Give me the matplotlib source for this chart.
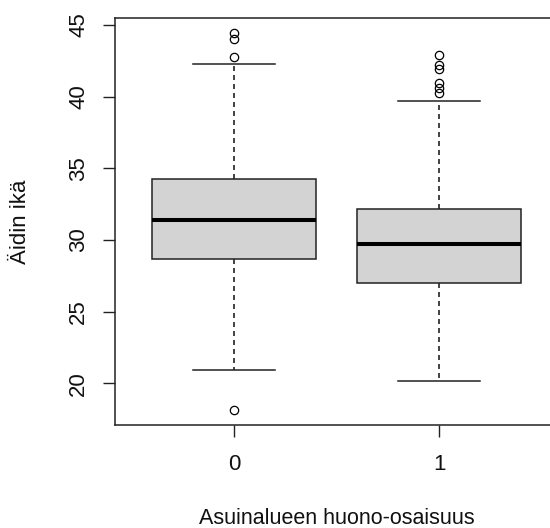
import matplotlib
matplotlib.use("Agg")
import matplotlib.pyplot as plt

plt.rcParams['font.family'] = ['Liberation Sans', 'DejaVu Sans']

# Data
groups = ["0", "1"]
medians = [31.37, 29.74]
q1 = [28.67, 27.02]
q3 = [34.26, 32.14]
whisker_low = [20.95, 20.18]
whisker_high = [42.28, 39.70]
fliers = [
    [44.42, 44.00, 42.79, 18.14],
    [42.91, 42.21, 41.91, 40.93, 40.58, 40.23],
]
y_ticks = [20, 25, 30, 35, 40, 45]
x_label = "Asuinalueen huono-osaisuus"
y_label = "Äidin ikä"

stats = []
for i, g in enumerate(groups):
    stats.append(dict(label=g, med=medians[i], q1=q1[i], q3=q3[i],
                      whislo=whisker_low[i], whishi=whisker_high[i],
                      fliers=fliers[i]))

fig = plt.figure(figsize=(5.5, 5.28), dpi=100)
ax = fig.add_axes([115/550, 103/528, 443/550, 407/528])

edge = '#222222'
ax.bxp(stats, positions=[1, 2], widths=0.8, patch_artist=True,
       boxprops=dict(facecolor='#D3D3D3', edgecolor=edge, linewidth=1.1),
       medianprops=dict(color='black', linewidth=2.9, solid_capstyle='butt'),
       whiskerprops=dict(color=edge, linewidth=1.2, linestyle=(0, (3.0, 2.4))),
       capprops=dict(color=edge, linewidth=1.1),
       capwidths=0.4,
       flierprops=dict(marker='o', markersize=6.0, markerfacecolor='none',
                       markeredgecolor='black', markeredgewidth=0.9))

ax.set_xlim(0.42, 2.58)
ax.set_ylim(17.09, 45.49)
ax.set_yticks(y_ticks)
ax.set_yticklabels([str(t) for t in y_ticks], rotation=90, va='center')
ax.set_xticks([1, 2])
ax.set_xticklabels(groups)

for s in ax.spines.values():
    s.set_color(edge)
    s.set_linewidth(1.1)

ax.tick_params(axis='both', length=8.6, width=1.0, color=edge,
               labelsize=16, labelcolor='#111111')
ax.tick_params(axis='y', pad=10)
ax.tick_params(axis='x', pad=12)

ax.set_xlabel(x_label, fontsize=15.5, color='#111111')
ax.set_ylabel(y_label, fontsize=16, color='#111111')
ax.xaxis.label.set_va('center')
ax.yaxis.label.set_va('center')
ax.xaxis.set_label_coords(0.5, (425 - 518) / 407)
ax.yaxis.set_label_coords((20 - 115) / 443, 0.5)

fig.savefig("out.png", dpi=100, facecolor='white')
